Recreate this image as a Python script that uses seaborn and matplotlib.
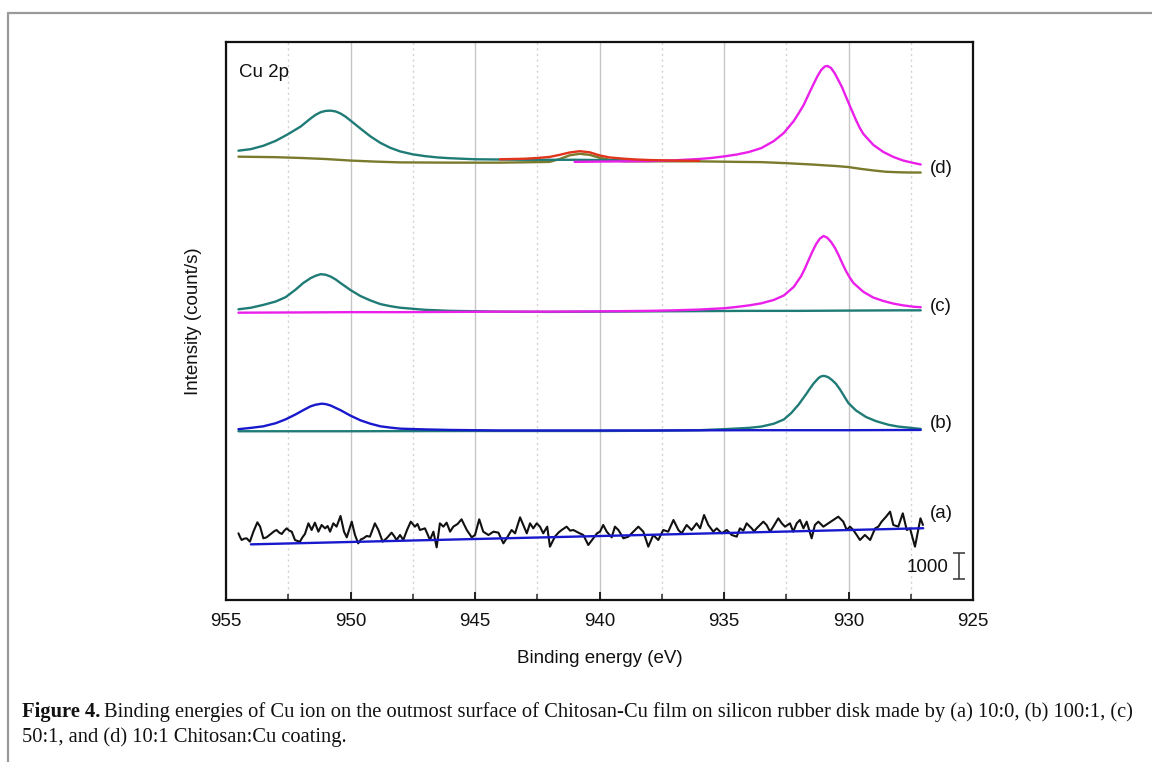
import matplotlib
matplotlib.use("Agg")
import matplotlib.pyplot as plt
import seaborn as sns
from matplotlib.lines import Line2D

# ---------------- data (binding energy in eV, intensity in counts/s) ----------------
# (d) 10:1 Chitosan:Cu
energy_d_bg = [954.5, 953.0, 952.0, 951.0, 950.0, 949.0, 948.0, 946.0, 944.0, 942.5, 942.0, 941.6, 941.2,
               940.8, 940.4, 940.0, 939.5, 939.0, 938.0, 936.0, 934.5, 933.5, 932.5, 931.5, 930.5, 930.0,
               929.5, 929.0, 928.5, 928.0, 927.5, 927.1]
counts_d_bg = [17050, 17030, 17000, 16960, 16900, 16860, 16830, 16820, 16820, 16840, 16850, 16960, 17100,
               17160, 17120, 17010, 16910, 16870, 16870, 16870, 16850, 16840, 16800, 16750, 16690, 16650,
               16580, 16520, 16470, 16450, 16440, 16440]
energy_d_2p1 = [954.5, 954.0, 953.5, 953.0, 952.5, 952.0, 951.6, 951.4, 951.2, 951.0, 950.8, 950.6, 950.4,
                950.2, 950.0, 949.6, 949.2, 948.8, 948.4, 948.0, 947.5, 947.0, 946.5, 946.0, 945.0, 944.0,
                943.0, 942.0, 941.0, 940.0, 939.0, 938.0]
counts_d_2p1 = [17280, 17340, 17470, 17660, 17920, 18210, 18520, 18660, 18760, 18810, 18820, 18790, 18710,
                18590, 18440, 18130, 17830, 17580, 17390, 17250, 17140, 17070, 17020, 16990, 16950, 16940,
                16930, 16930, 16930, 16920, 16910, 16900]
energy_d_sat = [944.0, 943.0, 942.5, 942.0, 941.6, 941.2, 940.8, 940.4, 940.0, 939.6, 939.0, 938.5, 938.0,
                937.0, 936.0]
counts_d_sat = [16950, 16970, 17000, 17040, 17120, 17210, 17260, 17220, 17100, 17020, 16970, 16940, 16920,
                16900, 16890]
energy_d_2p3 = [941.0, 940.0, 939.0, 938.0, 937.0, 936.0, 935.5, 935.0, 934.5, 934.0, 933.5, 933.0, 932.6,
                932.2, 932.0, 931.8, 931.6, 931.4, 931.25, 931.1, 930.95, 930.85, 930.7, 930.55, 930.4,
                930.25, 930.1, 929.9, 929.7, 929.55, 929.4, 929.0, 928.6, 928.2, 927.8, 927.4, 927.1]
counts_d_2p3 = [16850, 16860, 16870, 16880, 16910, 16960, 17000, 17060, 17130, 17230, 17380, 17650, 17960,
                18420, 18720, 19040, 19450, 19850, 20140, 20380, 20520, 20540, 20460, 20250, 19980,
                19700, 19350, 18900, 18460, 18160, 17920, 17500, 17230, 17040, 16900, 16810, 16750]

# (c) 50:1
energy_c_2p1 = [954.5, 954.0, 953.5, 953.0, 952.6, 952.2, 951.9, 951.6, 951.4, 951.2, 951.0, 950.8, 950.6,
                950.4, 950.0, 949.6, 949.2, 948.8, 948.4, 948.0, 947.0, 946.0, 944.0, 942.0, 940.0, 938.0,
                936.0, 934.0, 932.0, 930.0, 928.0, 927.1]
counts_c_2p1 = [11180, 11240, 11350, 11480, 11650, 11940, 12190, 12380, 12470, 12530, 12510, 12440, 12330,
                12190, 11920, 11690, 11520, 11380, 11300, 11240, 11160, 11120, 11090, 11080, 11090, 11100,
                11110, 11120, 11120, 11130, 11140, 11140]
energy_c_2p3 = [954.5, 952.0, 950.0, 948.0, 946.0, 944.0, 942.0, 940.0, 938.0, 937.0, 936.0, 935.0, 934.5,
                934.0, 933.5, 933.0, 932.6, 932.2, 931.9, 931.75, 931.6, 931.45, 931.3, 931.15, 931.0,
                930.85, 930.7, 930.55, 930.4, 930.25, 930.1, 929.95, 929.8, 929.4, 929.0, 928.6, 928.2,
                927.8, 927.4, 927.1]
counts_c_2p3 = [11050, 11060, 11070, 11070, 11080, 11090, 11090, 11100, 11120, 11140, 11170, 11220, 11270,
                11330, 11410, 11540, 11710, 12040, 12460, 12750, 13080, 13400, 13690, 13900, 14000,
                13930, 13770, 13550, 13270, 12950, 12650, 12400, 12190, 11850, 11630, 11500, 11400,
                11330, 11280, 11260]

# (b) 100:1
energy_b_2p1 = [954.5, 954.0, 953.5, 953.0, 952.6, 952.2, 951.9, 951.6, 951.4, 951.16, 951.0, 950.8, 950.4,
                950.0, 949.6, 949.2, 948.8, 948.4, 948.0, 947.0, 946.0, 944.0, 942.0, 938.0, 934.0, 930.0,
                927.1]
counts_b_2p1 = [6570, 6620, 6680, 6800, 6950, 7140, 7300, 7450, 7510, 7550, 7535, 7480, 7300,
                7090, 6910, 6780, 6680, 6630, 6590, 6560, 6540, 6520, 6520, 6520, 6530, 6530,
                6540]
energy_b_2p3 = [954.5, 950.0, 945.0, 940.0, 938.0, 936.0, 935.0, 934.0, 933.5, 933.0, 932.6, 932.3, 932.0,
                931.7, 931.55, 931.4, 931.2, 931.1, 931.0, 930.9, 930.8, 930.65, 930.5, 930.35, 930.2,
                930.1, 930.0, 929.7, 929.3, 928.9, 928.4, 928.0, 927.5, 927.1]
counts_b_2p3 = [6490, 6490, 6500, 6500, 6510, 6530, 6570, 6620, 6670, 6780, 6940, 7190, 7520,
                7920, 8130, 8330, 8540, 8600, 8620, 8600, 8560, 8450, 8310, 8110, 7880,
                7720, 7570, 7290, 7040, 6880, 6740, 6670, 6620, 6580]

# (a) 10:0 (raw noisy spectrum and its background)
energy_a = [954.50, 954.43, 954.37, 954.27, 954.17, 954.04, 953.90, 953.74, 953.63, 953.50, 953.37, 953.27,
            953.17, 953.07, 952.97, 952.86, 952.76, 952.66, 952.56, 952.46, 952.36, 952.23, 952.13, 952.03,
            951.93, 951.83, 951.69, 951.56, 951.43, 951.29, 951.16, 951.02, 950.92, 950.82, 950.69, 950.56,
            950.40, 950.26, 950.15, 949.95, 949.82, 949.69, 949.58, 949.48, 949.35, 949.22, 949.02, 948.88,
            948.71, 948.55, 948.35, 948.25, 948.15, 948.01, 947.88, 947.73, 947.58, 947.41, 947.31, 947.21,
            947.01, 946.91, 946.81, 946.67, 946.54, 946.41, 946.27, 946.14, 946.00, 945.87, 945.70, 945.54,
            945.43, 945.33, 945.13, 945.00, 944.83, 944.67, 944.46, 944.26, 944.06, 943.86, 943.73, 943.53,
            943.39, 943.19, 943.06, 942.92, 942.79, 942.66, 942.52, 942.39, 942.26, 942.10, 941.99, 941.79,
            941.65, 941.52, 941.32, 941.18, 941.05, 940.85, 940.65, 940.45, 940.25, 940.10, 939.98, 939.85,
            939.71, 939.51, 939.38, 939.24, 939.04, 938.84, 938.64, 938.44, 938.24, 938.04, 937.84, 937.64,
            937.44, 937.24, 937.03, 936.83, 936.70, 936.50, 936.30, 936.10, 935.96, 935.80, 935.63, 935.43,
            935.29, 935.09, 934.89, 934.69, 934.49, 934.36, 934.22, 934.09, 933.89, 933.79, 933.69, 933.42,
            933.29, 933.15, 933.02, 932.82, 932.68, 932.55, 932.35, 932.22, 932.08, 931.95, 931.81, 931.68,
            931.48, 931.35, 931.21, 931.01, 930.81, 930.61, 930.41, 930.21, 930.07, 929.94, 929.81, 929.67,
            929.54, 929.34, 929.13, 928.93, 928.80, 928.67, 928.49, 928.33, 928.20, 928.00, 927.82, 927.66,
            927.53, 927.33, 927.20, 927.11, 927.01]
counts_a = [2564, 2410, 2308, 2359, 2372, 2244, 2628, 2987, 2821, 2372, 2410, 2487,
            2564, 2641, 2692, 2590, 2538, 2667, 2756, 2667, 2628, 2308, 2269, 2244,
            2410, 2538, 2949, 2692, 2974, 2628, 2885, 2756, 2846, 2628, 2949, 2821,
            3231, 2628, 2410, 3013, 2500, 2179, 2333, 2372, 2462, 2436, 2949, 2692,
            2244, 2372, 2590, 2462, 2308, 2500, 2308, 2692, 3013, 2821, 2923, 2692,
            2756, 2538, 2308, 2628, 2026, 2949, 2821, 2974, 2628, 2821, 2923, 3103,
            2885, 2692, 2410, 2500, 3103, 2628, 2500, 2628, 2590, 2179, 2372, 2692,
            2564, 3179, 2885, 2564, 2949, 2756, 2949, 2821, 2564, 2821, 2051, 2436,
            2590, 2692, 2821, 2667, 2692, 2590, 2500, 2115, 2372, 2564, 2628, 2885,
            2628, 2410, 2821, 2692, 2372, 2436, 2628, 2821, 2628, 2051, 2500, 2308,
            2692, 2628, 3077, 2692, 2564, 2885, 2692, 2949, 2756, 3269, 2885, 2628,
            2756, 2564, 2692, 2500, 2436, 2756, 2667, 2949, 2756, 2641, 2756, 3013,
            2885, 2628, 2821, 3141, 2949, 2821, 2949, 2628, 2949, 3077, 2756, 3013,
            2372, 2885, 3013, 2821, 2949, 3077, 3205, 3013, 2692, 2821, 2692, 2500,
            2308, 2500, 2308, 2756, 2821, 3013, 3205, 3397, 2885, 2821, 3333, 2692,
            2756, 2051, 2692, 3141, 2885]
energy_a_bg = [954.0, 940.0, 927.0]
counts_a_bg = [2140, 2460, 2760]

spectrum_labels = ["(a)", "(b)", "(c)", "(d)"]
label_counts = [3310, 6800, 11280, 16600]
scale_bar_counts = 1000

x_major_ticks = [955, 950, 945, 940, 935, 930, 925]
x_minor_ticks = [952.5, 947.5, 942.5, 937.5, 932.5, 927.5]

# ---------------- styling ----------------
sns.set_style("white")
plt.rcParams['font.family'] = ['Liberation Sans', 'DejaVu Sans']

TEAL = "#1f7b76"
MAGENTA = "#ea1fea"
BLUE = "#1818cc"
OLIVE = "#7a7a2c"
RED = "#e0341c"
BLACK = "#111111"

W, H = 1152, 762
fig = plt.figure(figsize=(W / 100, H / 100), dpi=100)
ax = fig.add_axes([226 / W, 1 - 600 / H, 747 / W, 558 / H])


def draw(E, I, color, lw=1.7, z=3):
    sns.lineplot(x=E, y=I, ax=ax, color=color, lw=lw, sort=False, estimator=None, zorder=z)


# (d)
draw(energy_d_bg, counts_d_bg, OLIVE, z=3)
draw(energy_d_2p1, counts_d_2p1, TEAL, z=4)
draw(energy_d_2p3, counts_d_2p3, MAGENTA, z=4)
draw(energy_d_sat, counts_d_sat, RED, z=5)
# (c)
draw(energy_c_2p1, counts_c_2p1, TEAL, z=3)
draw(energy_c_2p3, counts_c_2p3, MAGENTA, z=4)
# (b)
draw(energy_b_2p3, counts_b_2p3, TEAL, z=3)
draw(energy_b_2p1, counts_b_2p1, BLUE, z=4)
# (a)
draw(energy_a, counts_a, BLACK, lw=1.5, z=3)
draw(energy_a_bg, counts_a_bg, BLUE, lw=1.7, z=4)

for ln in ax.get_lines():
    ln.set_solid_joinstyle('round')

ax.set_xlim(955, 925)
ax.set_ylim(0, 21460)
ax.set_xticks(x_major_ticks)
ax.set_xticks(x_minor_ticks, minor=True)
ax.set_xticklabels([str(t) for t in x_major_ticks])
ax.set_yticks([])
ax.set_axisbelow(True)
ax.grid(which='major', axis='x', color='#c6c6c6', lw=1.0, ls='-')
ax.grid(which='minor', axis='x', color='#d2d2d2', lw=1.0, ls=(0, (1.5, 2.5)))
ax.grid(which='major', axis='y', visible=False)
ax.tick_params(axis='x', which='major', direction='in', length=6, width=1.3, bottom=True, top=False,
               labelsize=13.5, pad=9, colors='#111111')
ax.tick_params(axis='x', which='minor', direction='in', length=4, width=1.1, bottom=True, top=False)
for s in ax.spines.values():
    s.set_visible(True)
    s.set_linewidth(1.6)
    s.set_color('#111111')

ax.set_xlabel("Binding energy (eV)", fontsize=13.5, labelpad=15, color='#111111')
ax.set_ylabel("Intensity (count/s)", fontsize=13.5, labelpad=17, color='#111111')

ax.text(0.017, 0.945, "Cu 2p", transform=ax.transAxes, fontsize=13.5, ha='left', va='center',
        color='#111111')
for lab, c in zip(spectrum_labels, label_counts):
    ax.text(926.75, c, lab, fontsize=13.5, ha='left', va='center', color='#111111')

# scale bar
ax.errorbar([925.55], [808 + scale_bar_counts / 2], yerr=[scale_bar_counts / 2], color='#333333',
            capsize=4, elinewidth=1.1, capthick=1.1, fmt='none')
ax.text(926.0, 808 + scale_bar_counts * 0.45, str(scale_bar_counts), fontsize=13.5, ha='right',
        va='center', color='#111111')

# figure frame (top and left rule)
fx, fy = 8 / W, 1 - 13 / H
fig.add_artist(Line2D([fx, 1.0], [fy, fy], transform=fig.transFigure, color='#9a9a9a', lw=1.6))
fig.add_artist(Line2D([fx, fx], [0.0, fy], transform=fig.transFigure, color='#9a9a9a', lw=1.6))

# caption
cap_font = ['Liberation Serif', 'DejaVu Serif']
cap_size = 14.8
x0 = 22 / W
y1 = 1 - 717 / H
y2 = 1 - 742 / H
t_bold = fig.text(x0, y1, "Figure 4.", fontsize=cap_size, fontweight='bold', family=cap_font,
                  ha='left', va='baseline', color='#111111')
fig.canvas.draw()
r = fig.canvas.get_renderer()
bb = t_bold.get_window_extent(renderer=r)
fig.text((bb.x1 + 4) / W, y1,
         "Binding energies of Cu ion on the outmost surface of Chitosan-Cu film on silicon rubber disk made by (a) 10:0, (b) 100:1, (c)",
         fontsize=cap_size, family=cap_font, ha='left', va='baseline', color='#111111')
fig.text(x0, y2, "50:1, and (d) 10:1 Chitosan:Cu coating.", fontsize=cap_size, family=cap_font,
         ha='left', va='baseline', color='#111111')

fig.savefig("out.png", dpi=100)
